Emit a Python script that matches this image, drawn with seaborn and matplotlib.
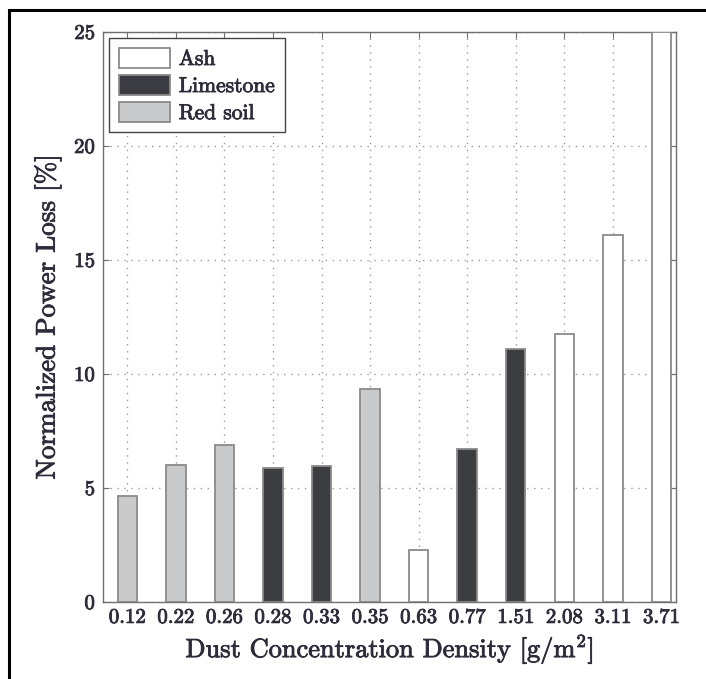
import matplotlib
matplotlib.use("Agg")
import matplotlib.pyplot as plt
import matplotlib.patches as mpatches
import matplotlib.patheffects as pe
import seaborn as sns
import pandas as pd

densities = ["0.12", "0.22", "0.26", "0.28", "0.33", "0.35",
             "0.63", "0.77", "1.51", "2.08", "3.11", "3.71"]
dust_types = ["Red soil", "Red soil", "Red soil", "Limestone", "Limestone", "Red soil",
              "Ash", "Limestone", "Limestone", "Ash", "Ash", "Ash"]
power_loss = [4.65, 6.0, 6.9, 5.88, 5.98, 9.35, 2.28, 6.7, 11.1, 11.75, 16.1, 25.0]
legend_order = ["Ash", "Limestone", "Red soil"]
colors = {"Ash": "#ffffff", "Limestone": "#3a3c42", "Red soil": "#c9cacc"}

df = pd.DataFrame({"density": densities, "type": dust_types, "loss": power_loss})

sns.set_theme(style="white")
plt.rcParams["font.family"] = ["cmr10", "DejaVu Serif"]
plt.rcParams["mathtext.fontset"] = "cm"
plt.rcParams["axes.formatter.use_mathtext"] = True
plt.rcParams["axes.unicode_minus"] = False

TXT = "#2c2c3a"
stroke = [pe.withStroke(linewidth=0.6, foreground=TXT)]

fig = plt.figure(figsize=(7.06, 6.79), dpi=100)
ax = fig.add_axes([103/706, 1-602/679, (676-103)/706, (602-32)/679])

sns.barplot(data=df, x="density", y="loss", hue="type", hue_order=legend_order,
            order=densities, palette=colors, dodge=False, width=0.4,
            edgecolor="#8a8a8a", linewidth=1.3, ax=ax, zorder=3)

ax.set_ylim(0, 25)
ax.set_xlim(-0.5, 11.3)
ax.set_yticks([0, 5, 10, 15, 20, 25])
ax.set_axisbelow(True)
ax.grid(True, which="major", axis="both", linestyle=(0, (1, 4)), color="#999999", linewidth=1.0)

for s in ax.spines.values():
    s.set_color("#707070")
    s.set_linewidth(1.0)
    s.set_visible(True)

ax.tick_params(axis="both", which="major", direction="in", length=4, width=0.8,
               color="#707070", top=True, right=True, bottom=True, left=True,
               labelsize=15, labelcolor=TXT, pad=5)

ax.set_xlabel(r"Dust Concentration Density [g/m$^{2}$]", fontsize=19,
              color=TXT, labelpad=4)
ax.set_ylabel("Normalized Power Loss [%]", fontsize=19.5, color=TXT, labelpad=9)

handles = [mpatches.Patch(facecolor=colors[k], edgecolor="#8a8a8a", linewidth=1.3, label=k)
           for k in legend_order]
if ax.get_legend() is not None:
    ax.get_legend().remove()
leg = ax.legend(handles=handles, loc="upper left", fontsize=15.5, frameon=True, fancybox=False,
                handlelength=2.4, handleheight=1.07, handletextpad=0.4, labelspacing=0.26,
                borderpad=0.42, borderaxespad=0.3, edgecolor="#444444", framealpha=1)
leg.get_frame().set_linewidth(1.0)
for t in leg.get_texts():
    t.set_color(TXT)

for t in (ax.get_xticklabels() + ax.get_yticklabels() + leg.get_texts()
          + [ax.xaxis.label, ax.yaxis.label]):
    t.set_path_effects(stroke)

border = mpatches.Rectangle((9/706, -0.05), 1.1, 1-10/679+0.05, transform=fig.transFigure,
                            fill=False, edgecolor="black", linewidth=2.2, clip_on=False)
fig.patches.append(border)

fig.savefig("out.png", dpi=100)
